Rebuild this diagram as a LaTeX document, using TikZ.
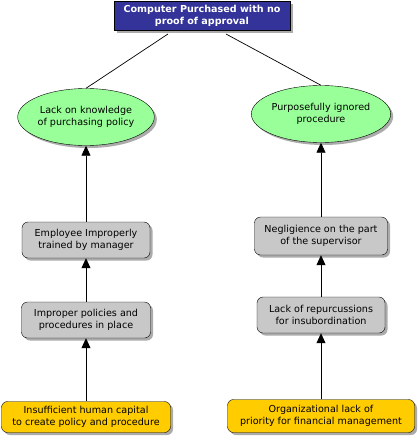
\documentclass[tikz,border=0pt]{standalone}
\usepackage{fontspec}
\setmainfont{DejaVu Sans}
\usetikzlibrary{shapes.geometric,arrows.meta,shadows}
\definecolor{navy}{HTML}{333399}
\definecolor{lgreen}{HTML}{99FF99}
\definecolor{lgray}{HTML}{C8C8C8}
\definecolor{gold}{HTML}{FFCC00}
\tikzset{
  shad/.style={drop shadow={shadow xshift=2.5pt,shadow yshift=-2.5pt,fill=black!55,opacity=0.6}},
  txt/.style={font=\fontsize{9.6}{11.5}\selectfont,align=center,inner sep=0pt},
  topbox/.style={txt,draw=black,fill=navy,text=white,font=\fontsize{9.6}{11.5}\selectfont\bfseries,minimum width=176pt,minimum height=29pt,shad},
  oval/.style={txt,ellipse,draw=black,fill=lgreen,minimum width=128pt,minimum height=57pt,shad},
  graybox/.style={txt,draw=black,rounded corners=6pt,fill=lgray,minimum height=36pt,shad},
  goldbox/.style={txt,draw=black,rounded corners=6pt,fill=gold,minimum height=31pt,shad},
  arr/.style={-{Triangle[length=10pt,width=9pt]},line width=0.7pt},
  ln/.style={line width=0.7pt}
}
\begin{document}
\begin{tikzpicture}[x=1pt,y=-1pt]
\useasboundingbox (0,0) rectangle (418,445);
\node[topbox] (top) at (202,16) {Computer Purchased with no\\proof of approval};
\node[oval] (e1) at (86,117) {Lack on knowledge\\of purchasing policy};
\node[oval] (e2) at (321,114) {Purposefully ignored\\procedure};
\node[graybox,minimum width=128pt] (l2) at (86,240) {Employee Improperly\\trained by manager};
\node[graybox,minimum width=129pt] (l3) at (86,320) {Improper policies and\\procedures in place};
\node[graybox,minimum width=133pt,minimum height=38pt] (r2) at (321,236) {Negligience on the part\\of the supervisor};
\node[graybox,minimum width=128pt] (r3) at (321,315) {Lack of repurcussions\\for insubordination};
\node[goldbox,minimum width=169pt] (l4) at (86,417) {Insufficient human capital\\to create policy and procedure};
\node[goldbox,minimum width=187pt,minimum height=33pt] (r4) at (321,416) {Organizational lack of\\priority for financial management};
\coordinate (t1) at (168,34);
\coordinate (t2) at (226,34);
\draw[ln] (t1) -- (e1.north);
\draw[ln] (t2) -- (e2.north);
\draw[arr] (l2.north) -- (e1.south);
\draw[arr] (l3.north) -- (l2.south);
\draw[arr] (l4.north) -- (l3.south);
\draw[arr] (r2.north) -- (e2.south);
\draw[arr] (r3.north) -- (r2.south);
\draw[arr] (r4.north) -- (r3.south);
\end{tikzpicture}
\end{document}
